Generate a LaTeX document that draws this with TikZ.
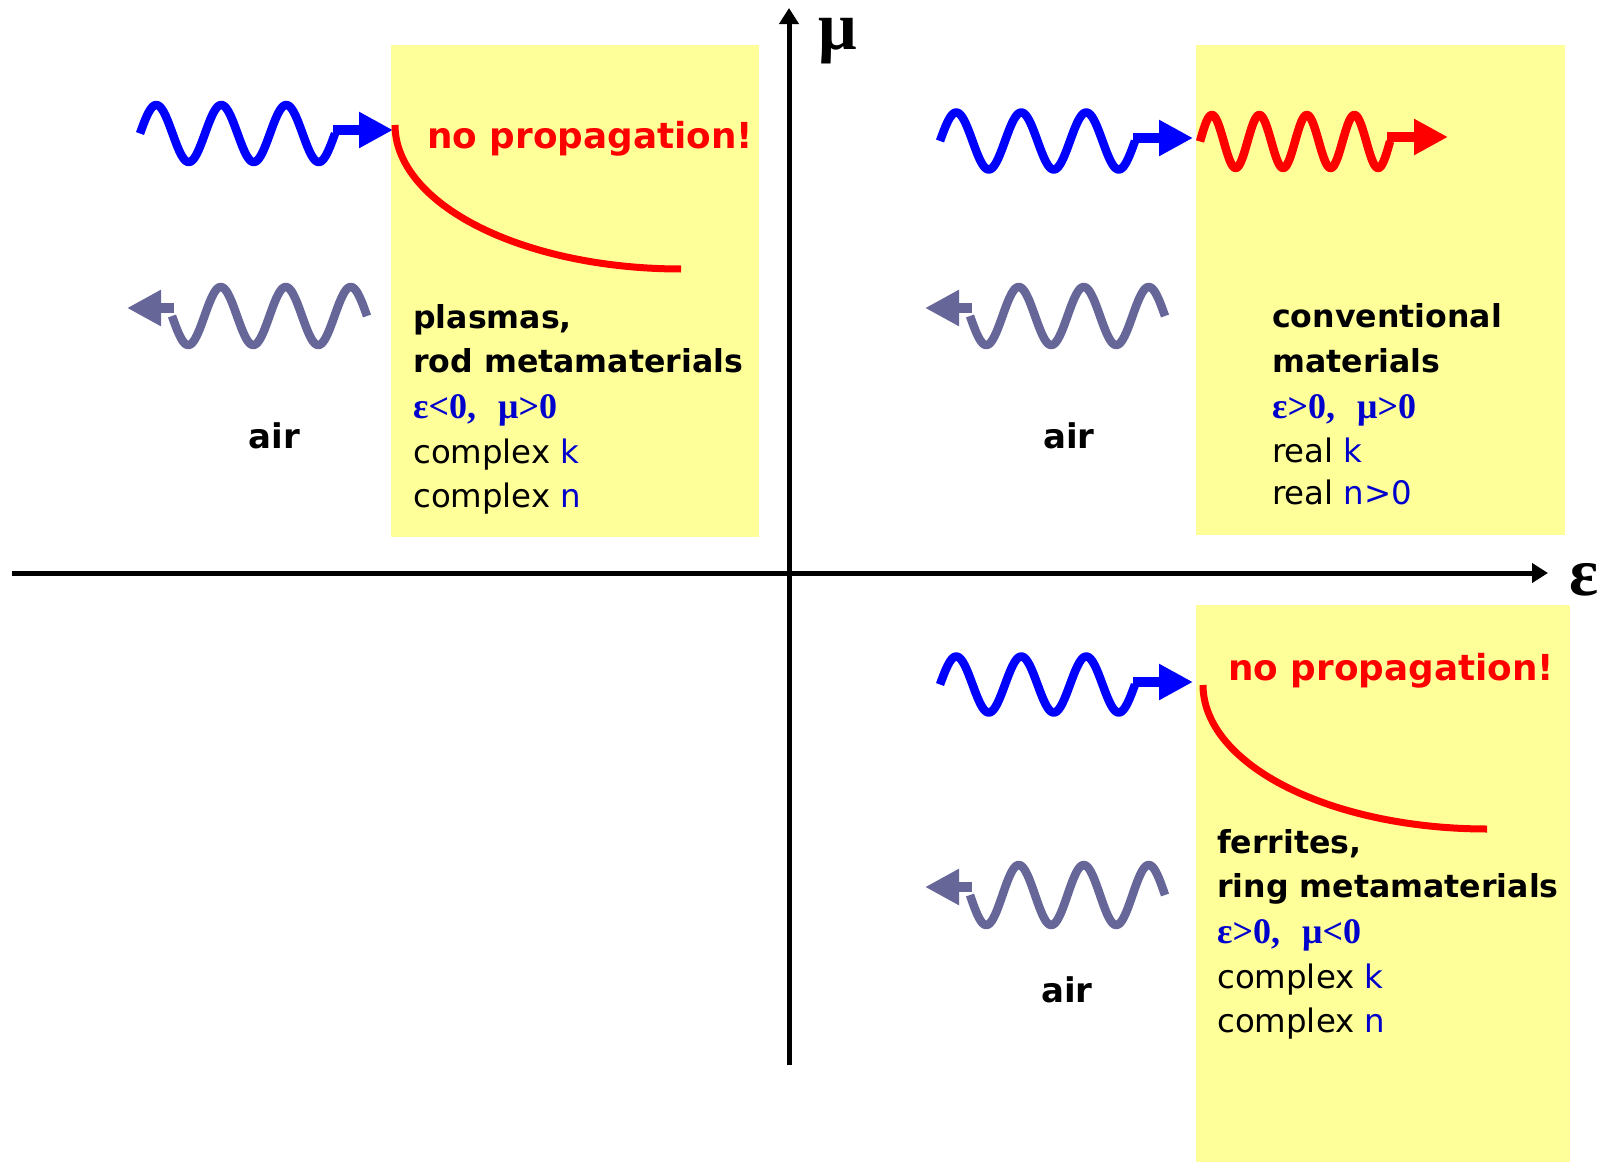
\documentclass[tikz,border=0pt]{standalone}
\usepackage{fontspec}
\setmainfont{DejaVu Sans}
\newfontfamily\tnr{Liberation Serif}
\usetikzlibrary{arrows.meta}
\definecolor{padyellow}{HTML}{FFFF99}
\definecolor{wblue}{HTML}{0000FF}
\definecolor{wgray}{HTML}{666699}
\definecolor{wred}{HTML}{FF0000}
\definecolor{tblue}{HTML}{0000CC}
\begin{document}
\begin{tikzpicture}[x=1pt,y=-1pt,
  padbox/.style={fill=padyellow, draw=none, inner sep=0, anchor=north west},
  wavel/.style={line width=8.5pt, line join=round},
  stemarrow/.style={line width=10pt, -{Triangle[length=34pt,width=34pt]}},
  axisarrow/.style={line width=5pt, -{Triangle[length=16pt,width=19pt]}},
  boldtxt/.style={font=\fontsize{31.6}{38}\selectfont\bfseries, anchor=base west, inner sep=0},
  regtxt/.style={font=\fontsize{32.4}{38}\selectfont, anchor=base west, inner sep=0},
  greektxt/.style={font=\fontsize{36}{40}\selectfont\tnr\bfseries, text=tblue, anchor=base west, inner sep=0},
  noprop/.style={font=\fontsize{35.8}{40}\selectfont\bfseries, text=wred, anchor=base west, inner sep=0},
  airtxt/.style={font=\fontsize{34}{40}\selectfont\bfseries, anchor=base, inner sep=0},
  axlabel/.style={font=\fontsize{68}{70}\selectfont\tnr\bfseries, anchor=base, inner sep=0},
  decay/.style={wred, line width=7pt},
]
\useasboundingbox (0,0) rectangle (1606,1162);
\fill[white] (0,0) rectangle (1606,1162);

% yellow material regions
\node[padbox, minimum width=368pt, minimum height=492pt] (boxTL) at (391,45) {};
\node[padbox, minimum width=369pt, minimum height=490pt] (boxTR) at (1196,45) {};
\node[padbox, minimum width=374pt, minimum height=557pt] (boxBR) at (1196,605) {};

% axes
\coordinate (xs) at (12,573);
\coordinate (xe) at (1548,573);
\coordinate (ys) at (789,1065);
\coordinate (ye) at (789,8);
\draw[axisarrow] (xs) -- (xe);
\draw[axisarrow] (ys) -- (ye);
\node[axlabel] (mu) at (838,49) {μ};
\node[axlabel] (eps) at (1584,595) {ε};

% ---------- top left quadrant ----------
\draw[wavel, wblue] plot[domain=0:195, samples=160] ({140+\x},{133.5-28.5*sin(\x/65*360)});
\coordinate (tlb1) at (333,130); \coordinate (tlb2) at (393,130);
\draw[stemarrow, wblue] (tlb1) -- (tlb2);
\draw[wavel, wgray] plot[domain=0:195, samples=160] ({367-\x},{316-29*sin(\x/65*360)});
\coordinate (tlg1) at (174,308); \coordinate (tlg2) at (127,308);
\draw[stemarrow, wgray] (tlg1) -- (tlg2);
\draw[decay] plot[domain=0:90, samples=80] ({681-286*cos(\x)},{125+144*sin(\x)});
\node[noprop] (npTL) at (427,148) {no propagation!};
\node[boldtxt] (tl1) at (413,328) {plasmas,};
\node[boldtxt] (tl2) at (413,372) {rod metamaterials};
\node[greektxt] (tl3) at (413,418) {ε<0,\hspace{22pt}μ>0};
\node[regtxt] (tl4) at (413,463) {complex \textcolor{tblue}{k}};
\node[regtxt] (tl5) at (413,507) {complex \textcolor{tblue}{n}};
\node[airtxt] (airTL) at (274.5,448) {air};

% ---------- top right quadrant ----------
\draw[wavel, wblue] plot[domain=0:195, samples=160] ({940+\x},{141-28.5*sin(\x/65*360)});
\coordinate (trb1) at (1133,138); \coordinate (trb2) at (1193,138);
\draw[stemarrow, wblue] (trb1) -- (trb2);
\draw[wavel, wred] plot[domain=0:190, samples=200] ({1200+\x},{141.5-26.5*sin(\x/47.5*360)});
\coordinate (trr1) at (1387,137); \coordinate (trr2) at (1448,137);
\draw[stemarrow, wred] (trr1) -- (trr2);
\draw[wavel, wgray] plot[domain=0:195, samples=160] ({1165-\x},{316-29*sin(\x/65*360)});
\coordinate (trg1) at (972,308); \coordinate (trg2) at (925,308);
\draw[stemarrow, wgray] (trg1) -- (trg2);
\node[boldtxt] (tr1) at (1272,327) {conventional};
\node[boldtxt] (tr2) at (1272,372) {materials};
\node[greektxt] (tr3) at (1272,418) {ε>0,\hspace{22pt}μ>0};
\node[regtxt] (tr4) at (1272,462) {real \textcolor{tblue}{k}};
\node[regtxt] (tr5) at (1272,504) {real \textcolor{tblue}{n>0}};
\node[airtxt] (airTR) at (1069,448) {air};

% ---------- bottom right quadrant ----------
\draw[wavel, wblue] plot[domain=0:195, samples=160] ({940+\x},{684.5-28*sin(\x/65*360)});
\coordinate (brb1) at (1133,682); \coordinate (brb2) at (1193,682);
\draw[stemarrow, wblue] (brb1) -- (brb2);
\draw[wavel, wgray] plot[domain=0:195, samples=160] ({1165-\x},{895-30*sin(\x/65*360)});
\coordinate (brg1) at (972,887); \coordinate (brg2) at (925,887);
\draw[stemarrow, wgray] (brg1) -- (brg2);
\draw[decay] plot[domain=0:90, samples=80] ({1487-284*cos(\x)},{685+144*sin(\x)});
\node[noprop] (npBR) at (1228,680) {no propagation!};
\node[boldtxt] (br1) at (1217,853) {ferrites,};
\node[boldtxt] (br2) at (1217,897) {ring metamaterials};
\node[greektxt] (br3) at (1217,943) {ε>0,\hspace{22pt}μ<0};
\node[regtxt] (br4) at (1217,988) {complex \textcolor{tblue}{k}};
\node[regtxt] (br5) at (1217,1032) {complex \textcolor{tblue}{n}};
\node[airtxt] (airBR) at (1067,1002) {air};
\end{tikzpicture}
\end{document}
